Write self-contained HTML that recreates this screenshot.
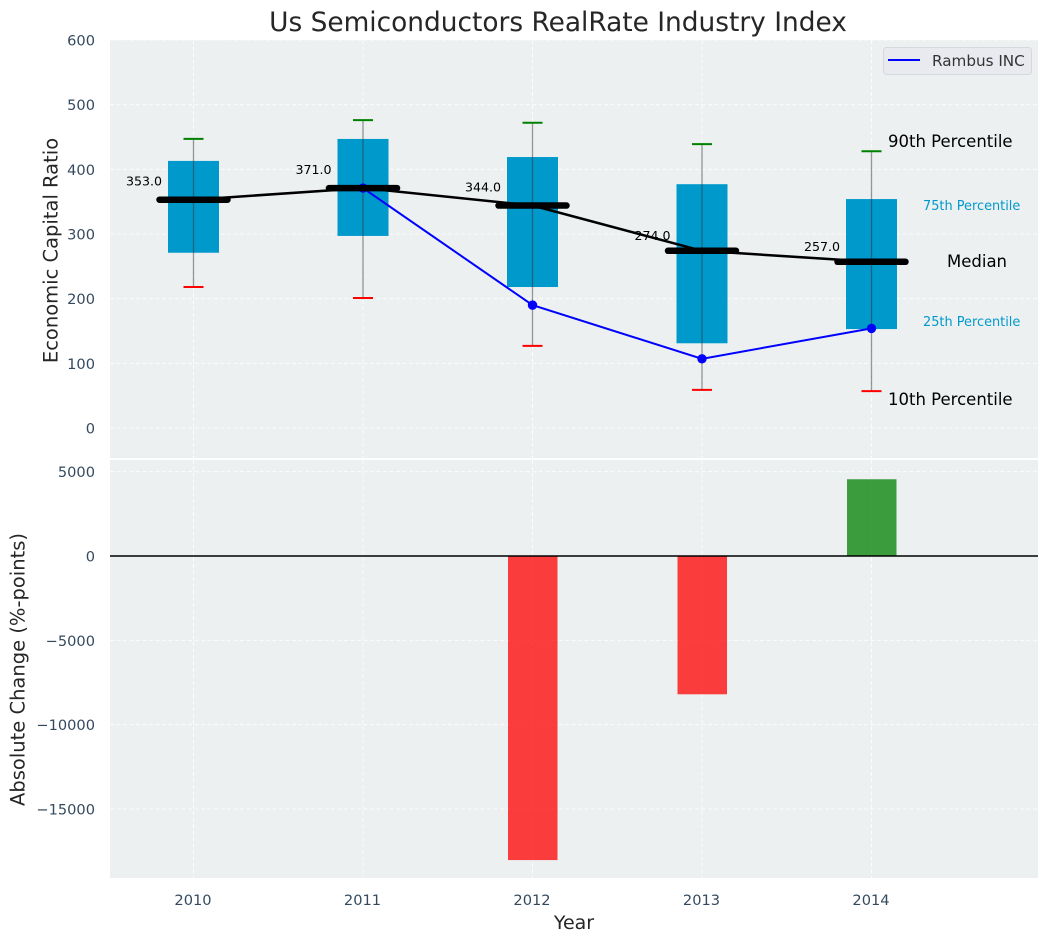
<!DOCTYPE html>
<html>
<head>
<meta charset="utf-8">
<title>Us Semiconductors RealRate Industry Index</title>
<style>
html,body{margin:0;padding:0;background:#fff;}
svg{display:block;}
text{font-family:"DejaVu Sans","Liberation Sans",sans-serif;}
</style>
</head>
<body>
<svg id="chart" width="1048" height="942" viewBox="0 0 1048 942" xmlns="http://www.w3.org/2000/svg">
  <rect x="110" y="40" width="928" height="418" fill="#ecf0f1"/>
  <rect x="110" y="460" width="928" height="418" fill="#ecf0f1"/>
  <g id="grid"></g>
  <g id="bars"></g>
  <g id="boxes"></g>
  <g id="rambus"></g>
  <g id="medians"></g>
  <g id="labels"></g>
  <text x="558" y="31" text-anchor="middle" font-size="26.4" fill="#262626">Us Semiconductors RealRate Industry Index</text>
  <text x="574" y="929" text-anchor="middle" font-size="19" fill="#262626">Year</text>
  <text transform="translate(57.5,250.5) rotate(-90)" text-anchor="middle" font-size="19.5" fill="#262626">Economic Capital Ratio</text>
  <text transform="translate(24.5,669.5) rotate(-90)" text-anchor="middle" font-size="19.5" fill="#262626">Absolute Change (%-points)</text>
  <g>
    <text x="888" y="147" font-size="16.5" fill="#000">90th Percentile</text>
    <text x="923" y="210" font-size="12.9" fill="#0099cc">75th Percentile</text>
    <text x="947" y="267" font-size="16.5" fill="#000">Median</text>
    <text x="923" y="326" font-size="12.9" fill="#0099cc">25th Percentile</text>
    <text x="888" y="405" font-size="16.5" fill="#000">10th Percentile</text>
  </g>
  <g>
    <rect x="883.5" y="47.5" width="148" height="27" rx="3" fill="#e8eaf0" stroke="#d5d8dc" stroke-width="1"/>
    <line x1="888" x2="920" y1="60" y2="60" stroke="#0000ff" stroke-width="2"/>
    <text x="932" y="66" font-size="15.2" fill="#333">Rambus INC</text>
  </g>
</svg>
<script>
var years = [2010, 2011, 2012, 2013, 2014];
var p90 = [447, 476, 472, 439, 428];
var p75 = [413, 447, 419, 377, 354];
var median = [353, 371, 344, 274, 257];
var p25 = [271, 297, 218, 131, 153];
var p10 = [218, 201, 127, 59, 57];
var rambus = [null, 371, 190, 107, 154];
var change = [null, null, -18030, -8200, 4550];
var topTicks = [0, 100, 200, 300, 400, 500, 600];
var bottomTicks = [-15000, -10000, -5000, 0, 5000];

var NS = 'http://www.w3.org/2000/svg';
function x(year) { return 193.5 + (year - 2010) * 169.5; }
function yTop(v) { return 428 - v * 0.6467; }
function yBottom(v) { return 556 - v * 0.016865; }
function make(parent, tag, attrs, text) {
  var el = document.createElementNS(NS, tag);
  for (var k in attrs) el.setAttribute(k, attrs[k]);
  if (text !== undefined) el.textContent = text;
  document.getElementById(parent).appendChild(el);
  return el;
}
function fmt(n) { return String(n).replace('-', '\u2212'); }
var GRID = { stroke: '#ffffff', 'stroke-width': 1, 'stroke-dasharray': '4 2.5', opacity: 0.85 };
function gridLine(x1, y1, x2, y2) {
  var a = { x1: x1, y1: y1, x2: x2, y2: y2 };
  for (var k in GRID) a[k] = GRID[k];
  return make('grid', 'line', a);
}

years.forEach(function (yr) {
  var g1 = gridLine(x(yr), 40, x(yr), 458);
  
  
  var g2 = gridLine(x(yr), 460, x(yr), 878);
  
  
  var t = make('labels', 'text', { x: x(yr) - 0.5, y: 905, 'text-anchor': 'middle', 'font-size': 14.6, fill: '#34495e' }, yr);
  
  
});
topTicks.forEach(function (v) {
  var g = gridLine(110, yTop(v), 1038, yTop(v));
  
  
  var t = make('labels', 'text', { x: 95, y: yTop(v) + 5.5, 'text-anchor': 'end', 'font-size': 14.6, fill: '#34495e' }, fmt(v));
  
  
});
bottomTicks.forEach(function (v) {
  var g = gridLine(110, yBottom(v), 1038, yBottom(v));
  
  
  var t = make('labels', 'text', { x: 95, y: yBottom(v) + 5.5, 'text-anchor': 'end', 'font-size': 14.6, fill: '#34495e' }, fmt(v));
  
  
});

change.forEach(function (v, i) {
  if (v === null) return;
  var y0 = yBottom(0), y1 = yBottom(v);
  var b = make('bars', 'rect', {
    x: x(years[i]) - 24.5, y: Math.min(y0, y1), width: 49.5, height: Math.abs(y1 - y0),
    fill: v < 0 ? '#ff0000' : '#008000', 'fill-opacity': 0.75
  });
  
  
});
var zero = make('bars', 'line', { x1: 110, x2: 1038, y1: yBottom(0), y2: yBottom(0), stroke: '#000', 'stroke-width': 1.5 });



years.forEach(function (yr, i) {
  var cx = x(yr);
  var box = make('boxes', 'rect', { x: cx - 25.5, y: yTop(p75[i]), width: 51, height: yTop(p25[i]) - yTop(p75[i]), fill: '#0099cc' });
  
  
  var w = make('boxes', 'line', { x1: cx, x2: cx, y1: yTop(p90[i]), y2: yTop(p10[i]), stroke: '#333', 'stroke-opacity': 0.5, 'stroke-width': 1.3 });
  
  
  var hi = make('boxes', 'line', { x1: cx - 10, x2: cx + 10, y1: yTop(p90[i]), y2: yTop(p90[i]), stroke: '#008000', 'stroke-width': 2 });
  
  
  var lo = make('boxes', 'line', { x1: cx - 10, x2: cx + 10, y1: yTop(p10[i]), y2: yTop(p10[i]), stroke: '#ff0000', 'stroke-width': 2 });
  
  
});

var rPts = [];
rambus.forEach(function (v, i) { if (v !== null) rPts.push(x(years[i]) + ',' + yTop(v)); });
var rLine = make('rambus', 'polyline', { points: rPts.join(' '), fill: 'none', stroke: '#0000ff', 'stroke-width': 2 });


rambus.forEach(function (v, i) {
  if (v === null) return;
  var c = make('rambus', 'circle', { cx: x(years[i]), cy: yTop(v), r: 4.7, fill: '#0000ff' });
  
  
});

var mLine = make('medians', 'polyline', {
  points: median.map(function (v, i) { return x(years[i]) + ',' + yTop(v); }).join(' '),
  fill: 'none', stroke: '#000', 'stroke-width': 2.5
});


median.forEach(function (v, i) {
  var cx = x(years[i]), cy = yTop(v);
  var m = make('medians', 'line', { x1: cx - 34, x2: cx + 34, y1: cy, y2: cy, stroke: '#000', 'stroke-width': 6.5, 'stroke-linecap': 'round' });
  
  
  var t = make('medians', 'text', { x: cx - 67.5, y: cy - (v < 300 ? 11 : 14), 'font-size': 12.6, fill: '#000' }, v.toFixed(1));
  
  
});
</script>
</body>
</html>
